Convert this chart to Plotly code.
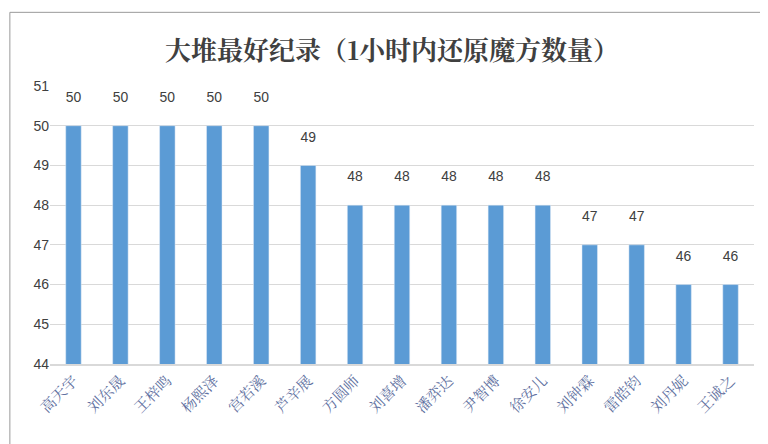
import plotly.graph_objects as go

names = ["高天宇", "刘东晟", "王梓鸣", "杨熙泽", "宫若溪", "芦辛展", "方圆师", "刘喜增",
         "潘弈达", "尹智博", "徐安儿", "刘钟霖", "雷皓钧", "刘丹妮", "王诚之"]
scores = [50, 50, 50, 50, 50, 49, 48, 48, 48, 48, 48, 47, 47, 46, 46]
y_ticks = [44, 45, 46, 47, 48, 49, 50, 51]

fig = go.Figure(go.Bar(
    x=names, y=scores, width=0.33,
    marker=dict(color="#5b9bd5"),
    text=scores, texttemplate="%{text}<br> ", textposition="outside",
    textfont=dict(family="Liberation Sans, Arial", size=15, color="#404040"),
    cliponaxis=False,
))

fig.update_layout(
    width=768, height=444,
    paper_bgcolor="white", plot_bgcolor="white",
    margin=dict(l=42, r=22, t=78, b=88),
    title=dict(text="<b>大堆最好纪录（1小时内还原魔方数量）</b>", x=0.5, xanchor="center",
               y=0.925, font=dict(family="Noto Serif CJK SC, Noto Sans CJK SC", size=26, color="#404040")),
    yaxis=dict(range=[44, 51], tickvals=y_ticks, showgrid=True, gridcolor="#d9d9d9",
               zeroline=False, tickfont=dict(family="Liberation Sans, Arial", size=14, color="#404040")),
    xaxis=dict(tickangle=-45, showline=True, linecolor="#d9d9d9", linewidth=2,
               tickfont=dict(family="Noto Serif CJK SC, Noto Sans CJK SC", size=15, color="#6070a0")),
    shapes=[dict(type="rect", xref="paper", yref="paper", x0=-0.057, y0=-0.3, x1=1.026, y1=1.265,
                 line=dict(color="#999999", width=1))],
    showlegend=False,
)

fig.write_html("out.html")
